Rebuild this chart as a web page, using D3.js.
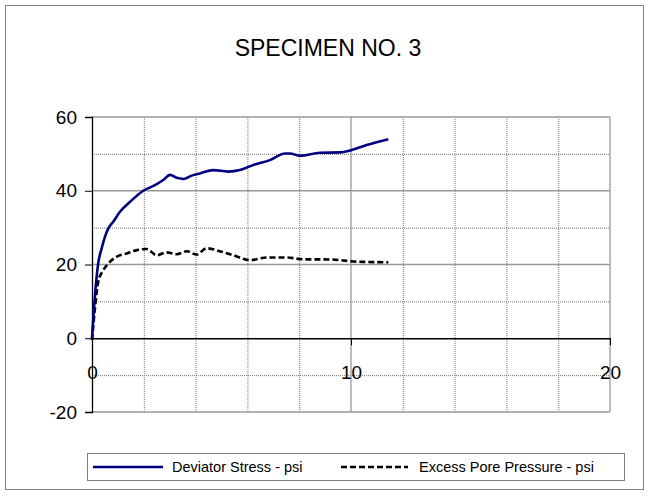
<!DOCTYPE html>
<html>
<head>
<meta charset="utf-8">
<script src="https://cdn.jsdelivr.net/npm/d3@7"></script>
<style>
  body { margin: 0; background: #fff; }
  text { font-family: "Liberation Sans", Arial, sans-serif; }
</style>
</head>
<body>
<div id="chart"></div>
<script>
// strain (%) vs stress / pore pressure
let stressX = [0, 0.12, 0.24, 0.37, 0.5, 0.63, 0.82, 1.08, 1.47, 1.98, 2.43, 2.75, 3.01, 3.27, 3.53, 3.85, 4.17, 4.68, 5.26, 5.71, 6.23, 6.87, 7.45, 7.64, 8.03, 8.8, 9.58, 10.0, 10.6, 11.44];
let stressY = [0, 12.1, 20.3, 24.3, 27.5, 29.8, 31.6, 34.3, 37.0, 40.0, 41.5, 42.9, 44.3, 43.5, 43.2, 44.1, 44.7, 45.6, 45.2, 45.6, 47.0, 48.3, 50.1, 50.1, 49.5, 50.3, 50.4, 51.0, 52.4, 54.0];

let poreX = [0, 0.12, 0.24, 0.44, 0.69, 0.95, 1.34, 1.73, 2.11, 2.5, 2.88, 3.27, 3.66, 4.04, 4.43, 4.94, 5.46, 6.1, 6.75, 7.52, 8.16, 8.93, 9.58, 9.96, 10.6, 11.44];
let poreY = [-0.5, 8.5, 15.3, 18.5, 20.7, 22.1, 23.0, 23.9, 24.2, 22.5, 23.3, 22.8, 23.6, 22.7, 24.4, 23.6, 22.5, 21.2, 21.9, 21.9, 21.4, 21.4, 21.2, 20.9, 20.7, 20.6];

let xTicks = [0, 10, 20];
let xMinor = [2, 4, 6, 8, 12, 14, 16, 18];
let yTicks = [-20, 0, 20, 40, 60];
let yMinor = [-10, 10, 30, 50];

let title = 'SPECIMEN NO. 3';
let seriesNames = ['Deviator Stress - psi', 'Excess Pore Pressure - psi'];

let W = 650, H = 496;
let margin = {top: 117, right: 40, bottom: 84, left: 92};
let width = W - margin.left - margin.right;
let height = H - margin.top - margin.bottom;

let x = d3.scaleLinear().domain([0, 20]).range([0, width]);
let y = d3.scaleLinear().domain([-20, 60]).range([height, 0]);

let svg = d3.select('#chart')
  .append('svg')
  .attr('width', W)
  .attr('height', H);

// outer chart border
svg.append('rect')
  .attr('x', 5.5).attr('y', 5.5)
  .attr('width', 638).attr('height', 484)
  .attr('fill', 'none')
  .attr('stroke', '#808080')
  .attr('stroke-width', 1);

svg.append('text')
  .attr('x', 328)
  .attr('y', 56)
  .attr('text-anchor', 'middle')
  .attr('font-size', 23)
  .text(title);

let g = svg.append('g')
  .attr('transform', `translate(${margin.left},${margin.top})`);

// minor gridlines, dotted
g.append('g').selectAll('line')
  .data(yMinor).enter().append('line')
  .attr('x1', 0).attr('x2', width)
  .attr('y1', d => y(d) + 0.5).attr('y2', d => y(d) + 0.5)
  .attr('stroke', '#777').attr('stroke-dasharray', '1,1');
g.append('g').selectAll('line')
  .data(xMinor).enter().append('line')
  .attr('x1', d => x(d) + 0.5).attr('x2', d => x(d) + 0.5)
  .attr('y1', 0).attr('y2', height)
  .attr('stroke', '#777').attr('stroke-dasharray', '1,1');

// major gridlines
g.append('g').selectAll('line')
  .data(yTicks.filter(d => d !== 0)).enter().append('line')
  .attr('x1', 0).attr('x2', width)
  .attr('y1', d => y(d)).attr('y2', d => y(d))
  .attr('stroke', '#999').attr('stroke-width', 1.3);
g.append('g').selectAll('line')
  .data(xTicks.filter(d => d !== 0)).enter().append('line')
  .attr('x1', d => x(d)).attr('x2', d => x(d))
  .attr('y1', 0).attr('y2', height)
  .attr('stroke', '#999').attr('stroke-width', 1.3);

// y axis
let yAxis = g.append('g')
  .call(d3.axisLeft(y).tickValues(yTicks).tickSize(7).tickPadding(8).tickFormat(d => String(d)));
yAxis.select('.domain').attr('stroke', '#000').attr('stroke-width', 1.3);
yAxis.selectAll('text').attr('font-size', 19).attr('fill', '#000')
  .style('font-family', '"Liberation Sans", Arial, sans-serif');

// x axis crossing at y = 0
let xAxis = g.append('g')
  .attr('transform', `translate(0,${y(0)})`)
  .call(d3.axisBottom(x).tickValues(xTicks).tickSize(7).tickPadding(20).tickSizeOuter(0).tickFormat(d => String(d)));
xAxis.select('.domain').attr('stroke', '#000').attr('stroke-width', 1.3);
xAxis.selectAll('text').attr('font-size', 19).attr('fill', '#000')
  .style('font-family', '"Liberation Sans", Arial, sans-serif');

let stress = stressX.map((d, i) => [d, stressY[i]]);
let pore = poreX.map((d, i) => [d, poreY[i]]);

let line = d3.line()
  .x(d => x(d[0]))
  .y(d => y(d[1]))
  .curve(d3.curveMonotoneX);

g.append('path')
  .datum(pore)
  .attr('d', line)
  .attr('fill', 'none')
  .attr('stroke', '#000')
  .attr('stroke-width', 2.6)
  .attr('stroke-dasharray', '6,3');

g.append('path')
  .datum(stress)
  .attr('d', line)
  .attr('fill', 'none')
  .attr('stroke', '#000080')
  .attr('stroke-width', 2.6);

// legend
let legend = svg.append('g');
legend.append('rect')
  .attr('x', 87.5).attr('y', 453.5)
  .attr('width', 537).attr('height', 27)
  .attr('fill', '#fff')
  .attr('stroke', '#808080');

let items = [
  {name: seriesNames[0], x1: 93, x2: 163, tx: 172, color: '#000080', dash: null},
  {name: seriesNames[1], x1: 341, x2: 408, tx: 419, color: '#000', dash: '6,3'}
];
items.forEach(it => {
  legend.append('line')
    .attr('x1', it.x1).attr('x2', it.x2)
    .attr('y1', 467).attr('y2', 467)
    .attr('stroke', it.color)
    .attr('stroke-width', 2.6)
    .attr('stroke-dasharray', it.dash);
  legend.append('text')
    .attr('x', it.tx).attr('y', 472)
    .attr('font-size', 14.5)
    .text(it.name);
});
</script>
</body>
</html>
